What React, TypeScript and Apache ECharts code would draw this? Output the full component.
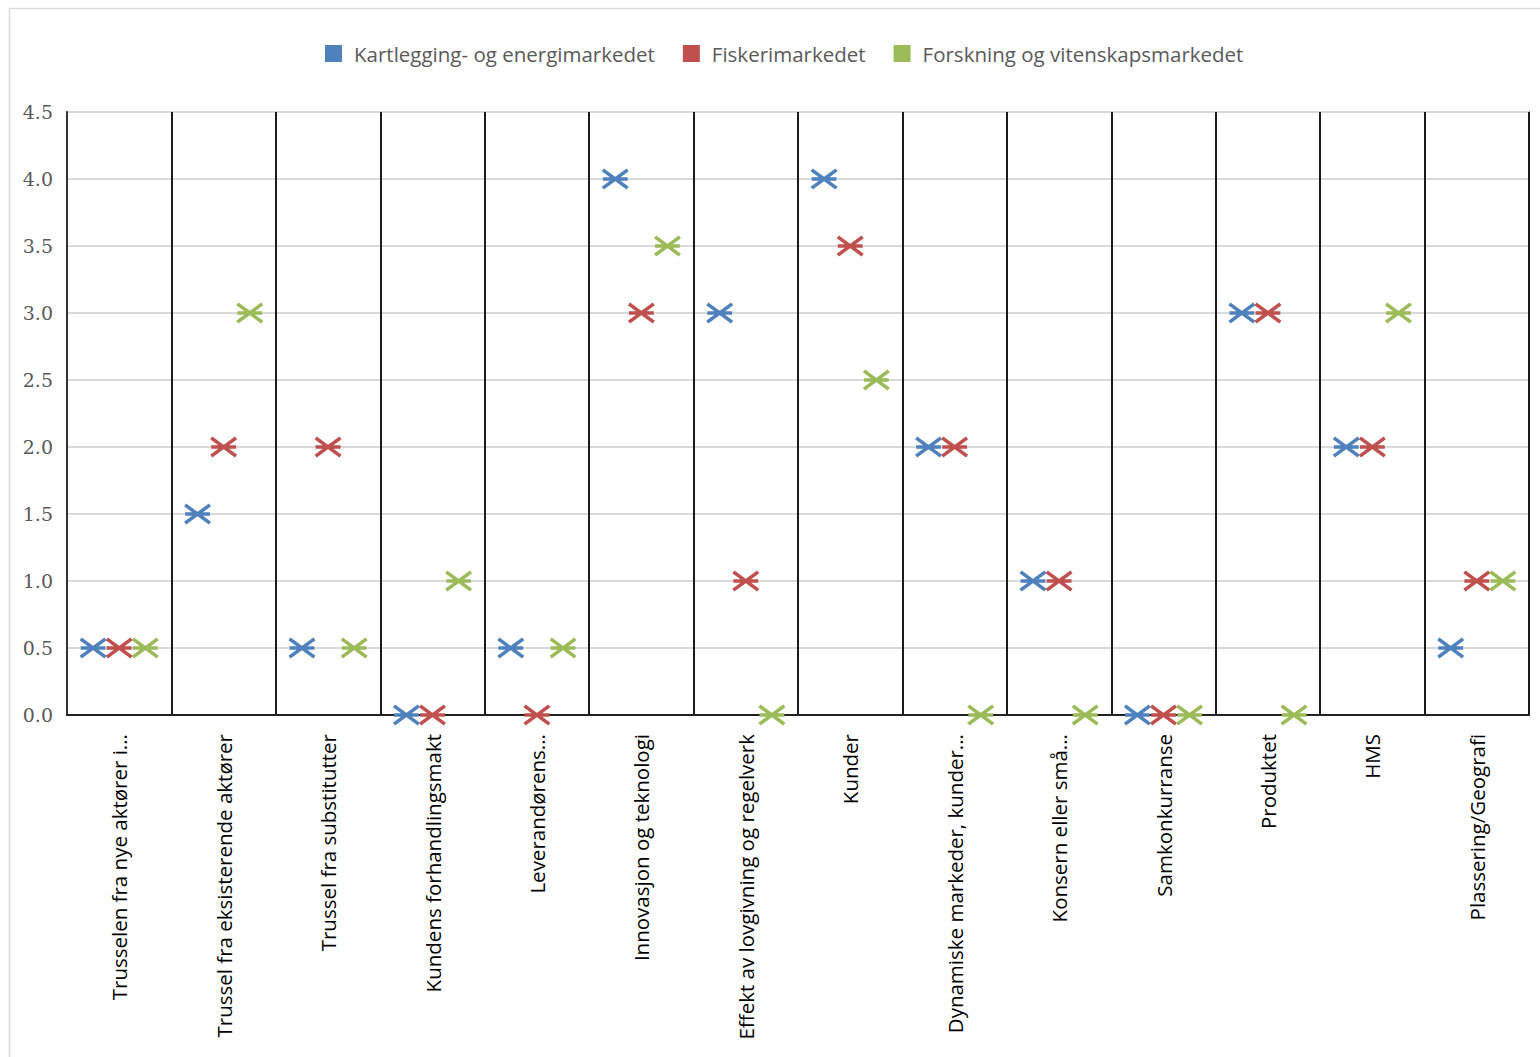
import React, { useEffect, useRef } from "react";
import * as echarts from "echarts";

const categories = [
  "Trusselen fra nye aktører i...",
  "Trussel fra eksisterende aktører",
  "Trussel fra substitutter",
  "Kundens forhandlingsmakt",
  "Leverandørens...",
  "Innovasjon og teknologi",
  "Effekt av lovgivning og regelverk",
  "Kunder",
  "Dynamiske markeder, kunder...",
  "Konsern eller små...",
  "Samkonkurranse",
  "Produktet",
  "HMS",
  "Plassering/Geografi",
];

const seriesNames = [
  "Kartlegging- og energimarkedet",
  "Fiskerimarkedet",
  "Forskning og vitenskapsmarkedet",
];

const kartlegging = [0.5, 1.5, 0.5, 0, 0.5, 4, 3, 4, 2, 1, 0, 3, 2, 0.5];
const fiskeri = [0.5, 2, 2, 0, 0, 3, 1, 3.5, 2, 1, 0, 3, 2, 1];
const forskning = [0.5, 3, 0.5, 1, 0.5, 3.5, 0, 2.5, 0, 0, 0, 0, 3, 1];

const colors = ["#4F81BD", "#C0504D", "#9BBB59"];
const offsets = [0.25, 0.5, 0.75];

// asterisk-like marker: X with a horizontal bar, as filled polygons (same winding)
const starPath =
  "path://" +
  "M-1.05,1.4L22.95,19.4L25.05,16.6L1.05,-1.4Z" +
  "M1.05,19.4L25.05,1.4L22.95,-1.4L-1.05,16.6Z" +
  "M0,10.75L24,10.75L24,7.25L0,7.25Z";

export default function App() {
  const ref = useRef<HTMLDivElement>(null);

  useEffect(() => {
    if (!ref.current) return;
    const chart = echarts.init(ref.current, undefined, { renderer: "svg" });
    const values = [kartlegging, fiskeri, forskning];

    chart.setOption({
      animation: false,
      backgroundColor: "#ffffff",
      graphic: [
        {
          type: "rect",
          left: 7,
          top: 6,
          shape: { x: 0, y: 0, width: 1600, height: 1200 },
          style: { fill: "none", stroke: "#D9D9D9", lineWidth: 1.5 },
          silent: true,
        },
      ],
      legend: {
        top: 38,
        left: 320,
        itemWidth: 17,
        itemHeight: 17,
        itemGap: 28,
        textStyle: {
          fontFamily: "Open Sans",
          fontSize: 20.5,
          color: "#595959",
          padding: [0, 0, 0, 7],
        },
        data: seriesNames.map((n, i) => ({
          name: n,
          icon: "rect",
          itemStyle: { color: colors[i], borderWidth: 0 },
        })),
      },
      grid: {
        left: 67,
        right: 11,
        top: 112,
        bottom: 342,
        show: true,
        borderColor: "#222",
        borderWidth: 1.5,
        containLabel: false,
      },
      xAxis: [
        {
          type: "category",
          data: categories,
          boundaryGap: true,
          axisLine: { show: true, lineStyle: { color: "#222", width: 2 } },
          axisTick: { show: false },
          splitLine: { show: true, lineStyle: { color: "#1a1a1a", width: 2 } },
          axisLabel: {
            interval: 0,
            rotate: 90,
            margin: 19,
            fontFamily: "Open Sans",
            fontSize: 20.5,
            color: "#000",
          },
        },
        {
          type: "value",
          min: 0,
          max: categories.length,
          show: false,
          splitLine: { show: false },
        },
      ],
      yAxis: {
        type: "value",
        min: 0,
        max: 4.5,
        interval: 0.5,
        axisLine: { show: true, lineStyle: { color: "#333", width: 2 } },
        axisTick: { show: false },
        splitLine: { show: true, lineStyle: { color: "#D9D9D9", width: 2 } },
        axisLabel: {
          margin: 14,
          fontFamily: "DejaVu Serif",
          fontSize: 19,
          color: "#595959",
          formatter: (v: number) => v.toFixed(1),
        },
      },
      series: values.map((vals, s) => ({
        name: seriesNames[s],
        type: "scatter",
        xAxisIndex: 1,
        yAxisIndex: 0,
        clip: true,
        symbol: starPath,
        symbolSize: [27, 21],
        itemStyle: {
          color: colors[s],
          opacity: 1,
          borderWidth: 0,
        },
        data: vals.map((v, i) => [i + offsets[s], v]),
      })),
    });

    return () => chart.dispose();
  }, []);

  return (
    <div
      ref={ref}
      style={{ position: "fixed", left: 0, top: 0, width: 1540, height: 1057 }}
    />
  );
}
